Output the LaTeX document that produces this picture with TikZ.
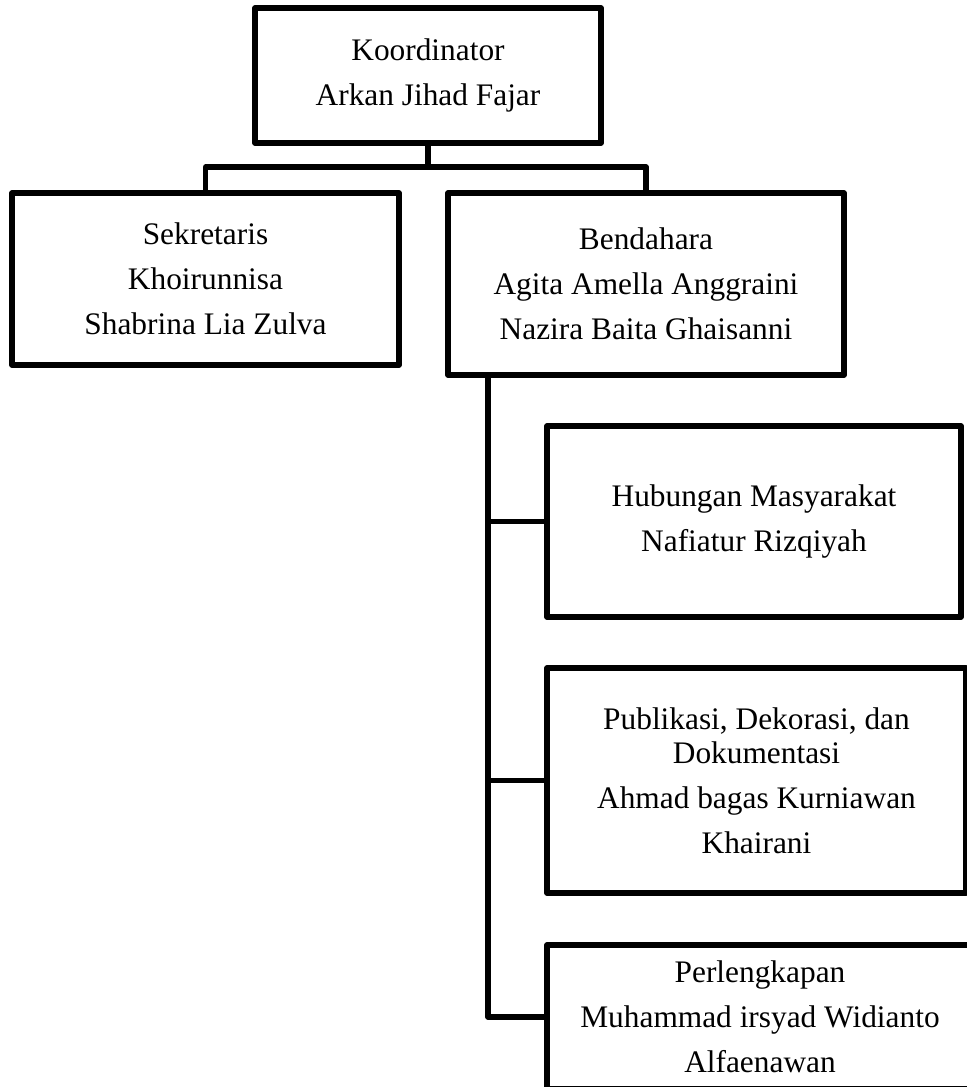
\documentclass[tikz,border=0pt]{standalone}
\usepackage{fontspec}
\setmainfont{Liberation Serif}

\begin{document}
\begin{tikzpicture}[x=0.025cm, y=-0.025cm,
    box/.style={draw, line width=3.8pt, line join=round, fill=white, align=center,
                inner sep=0pt, font=\fontsize{22.3}{31.9}\selectfont},
    link/.style={line width=3.8pt, line join=round}]
  \path[use as bounding box] (0,0) rectangle (967,1087);
  \clip (0,0) rectangle (967,1087);

  % Top Nodes
  \node[box, minimum width=8.65cm, minimum height=3.375cm] (koord) at (428,75.5)
    {Koordinator\\Arkan Jihad Fajar};
  \node[box, minimum width=9.675cm, minimum height=4.3cm] (sekr) at (205.5,279)
    {Sekretaris\\Khoirunnisa\\Shabrina Lia Zulva};
  \node[box, minimum width=9.9cm, minimum height=4.55cm] (bend) at (646,284)
    {Bendahara\\Agita Amella Anggraini\\Nazira Baita Ghaisanni};

  % Divisions
  \node[box, minimum width=10.35cm, minimum height=4.775cm] (humas) at (754,521.5)
    {Hubungan Masyarakat\\Nafiatur Rizqiyah};
  \node[box, minimum width=10.475cm, minimum height=5.625cm] (pdd) at (756.5,780.5)
    {Publikasi, Dekorasi, dan\\[-7.8pt]Dokumentasi\\Ahmad bagas Kurniawan\\Khairani};
  \node[box, minimum width=10.65cm, minimum height=3.6cm] (perl) at (760,1017)
    {Perlengkapan\\Muhammad irsyad Widianto\\Alfaenawan};

  % Connections
  \coordinate (hub) at (428,167);
  \coordinate (trunk) at (488,375);
  \draw[link] (koord.south) -- (hub);
  \draw[link] (sekr.north) |- (hub) -| (bend.north);
  \draw[link] (trunk) |- (perl.west);
  \draw[link] (trunk |- humas.west) -- (humas.west);
  \draw[link] (trunk |- pdd.west) -- (pdd.west);
\end{tikzpicture}
\end{document}
